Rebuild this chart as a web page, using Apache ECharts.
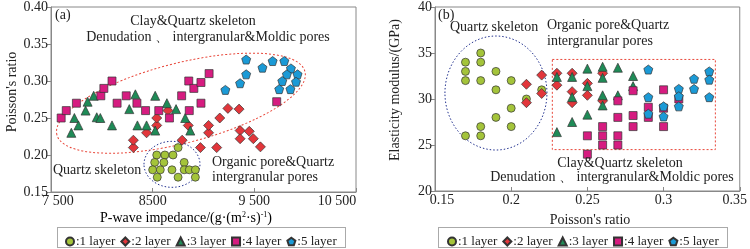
<!DOCTYPE html>
<html>
<head>
<meta charset="utf-8">
<script src="https://cdn.jsdelivr.net/npm/echarts@6/dist/echarts.min.js"></script>
<style>
  html, body { margin: 0; padding: 0; background: #fff; }
  #main { width: 750px; height: 249px; }
</style>
</head>
<body>
<div id="main"></div>
<script>
// panel (a): P-wave impedance vs Poisson's ratio
const aLayer1 = [[8540,0.20],[8620,0.20],[8700,0.20],[8750,0.21],[8520,0.19],[8610,0.19],[8810,0.19],
  [8500,0.18],[8575,0.18],[8690,0.18],[8810,0.18],[8860,0.18],[8920,0.18],[8545,0.17],[8750,0.17],[8920,0.17]];
const aLayer2 = [[8310,0.21],[8310,0.22],[8440,0.23],[8540,0.24],[8540,0.25],[8650,0.26],[8790,0.22],[8850,0.24],
  [8970,0.21],[9050,0.23],[9050,0.24],[9130,0.21],[9160,0.25],[9240,0.263],[9350,0.262],[9360,0.233],[9360,0.222],
  [9450,0.232],[9490,0.222],[9560,0.211]];
const aLayer3 = [[7700,0.23],[7730,0.25],[7770,0.24],[7840,0.26],[7860,0.272],[7920,0.28],[7950,0.251],[7985,0.25],
  [8100,0.24],[8270,0.262],[8330,0.282],[8350,0.24],[8440,0.24],[8525,0.28],[8525,0.233],[8640,0.27],[8730,0.262],
  [8820,0.25],[8870,0.233]];
const aLayer4 = [[7600,0.25],[7650,0.26],[7750,0.27],[7990,0.28],[8020,0.29],[8100,0.30],[8150,0.27],[8240,0.28],
  [8345,0.27],[8430,0.26],[8560,0.26],[8665,0.25],[8785,0.28],[8855,0.30],[8860,0.26],[8905,0.29],[8975,0.298],
  [8975,0.27],[9055,0.31],[9720,0.272]];
const aLayer5 = [[9215,0.288],[9360,0.297],[9420,0.309],[9420,0.329],[9580,0.318],[9680,0.327],[9795,0.327],
  [9860,0.317],[9820,0.309],[9925,0.309],[9775,0.30],[9910,0.299],[9745,0.289],[9855,0.289]];

// panel (b): Poisson's ratio vs elasticity modulus
const bLayer1 = [[0.17,34],[0.17,33],[0.17,32],[0.17,26],[0.18,35],[0.18,34],[0.18,32],[0.18,27],[0.18,26],
  [0.19,33],[0.19,31],[0.19,28],[0.20,32],[0.20,29],[0.20,27],[0.21,30],[0.22,31]];
const bLayer2 = [[0.21,31.6],[0.21,29.6],[0.22,32.6],[0.22,30.6],[0.23,32.8],[0.23,31.5],[0.24,32.8],[0.24,30.8],
  [0.24,29.6],[0.25,31.7],[0.25,30.4],[0.26,32.8],[0.26,29.8]];
const bLayer3 = [[0.23,32.4],[0.23,26.4],[0.24,32.4],[0.24,30.2],[0.24,27.5],[0.25,33.3],[0.25,31.4],[0.25,28.3],
  [0.26,33.5],[0.26,32.3],[0.26,30.4],[0.26,29.3],[0.27,33.4],[0.27,30.4],[0.28,32.5],[0.28,31.4]];
const bLayer4 = [[0.25,26],[0.25,24],[0.26,27],[0.26,26],[0.26,25],[0.27,29.8],[0.27,28],[0.27,26],[0.27,25],
  [0.28,30.9],[0.28,28.2],[0.28,27],[0.29,29.1],[0.29,28],[0.30,31],[0.30,29],[0.30,27],[0.31,30]];
const bLayer5 = [[0.29,33.2],[0.29,30.2],[0.29,28.4],[0.30,29.2],[0.30,28.1],[0.31,31.1],[0.31,30.3],[0.31,29.2],
  [0.32,32.2],[0.32,31.1],[0.33,33],[0.33,32.1],[0.33,30.2]];

const layerNames = ['1 layer','2 layer','3 layer','4 layer','5 layer'];
const aTicks = [7500, 8500, 9500, 10500];
const aTickText = {7500:'{lo|7 500}', 8500:'8500', 9500:'9 500', 10500:'{hiA|10 500}'};
const bTicks = [0.15, 0.2, 0.25, 0.3, 0.35];
const bTickText = {0.15:'{lo|0.15}', 0.2:'0.2', 0.25:'0.25', 0.3:'0.3', 0.35:'{hiB|0.35}'};

const pentagon = 'path://M0,-1L0.951,-0.309L0.588,0.809L-0.588,0.809L-0.951,-0.309Z';
const symbols = ['circle', 'diamond', 'triangle', 'rect', pentagon];
const sizes = [8, 10, 9, 8, 9];
const colors = ['#a4c43a', '#e2363b', '#1f8b57', '#d61c80', '#1b9ad6'];
const serif = '"Liberation Serif", "Times New Roman", serif';

const myChart = echarts.init(document.getElementById('main'));

function makeSeries(name, i, data, idx) {
  return {
    name: name, type: 'scatter', xAxisIndex: idx, yAxisIndex: idx,
    symbol: symbols[i], symbolSize: sizes[i], data: data,
    itemStyle: { color: colors[i], borderColor: '#333', borderWidth: 0.7, opacity: 1 },
    z: 3
  };
}

const axisColor = '#888';
const edgeRich = {
  lo: { fontFamily: serif, fontSize: 14, color: '#222', padding: [0, 0, 0, 14] },
  hiA: { fontFamily: serif, fontSize: 14, color: '#222', padding: [0, 38, 0, 0] },
  hiB: { fontFamily: serif, fontSize: 14, color: '#222', padding: [0, 10, 0, 0] }
};
function xAxisBase(min, max, ticks, fmt, gi) {
  return {
    type: 'value', gridIndex: gi, min: min, max: max,
    axisLine: { show: true, lineStyle: { color: axisColor } },
    axisTick: { show: true, inside: true, length: 4, customValues: ticks, lineStyle: { color: axisColor } },
    axisLabel: { customValues: ticks, formatter: fmt, color: '#222', fontFamily: serif, fontSize: 14,
      margin: 2, rich: edgeRich },
    splitLine: { show: false }
  };
}
function yAxisBase(min, max, interval, fmt, gi) {
  return {
    type: 'value', gridIndex: gi, min: min, max: max, interval: interval,
    axisLine: { show: true, lineStyle: { color: axisColor } },
    axisTick: { show: true, length: 4, lineStyle: { color: axisColor } },
    axisLabel: { formatter: fmt, color: '#222', fontFamily: serif, fontSize: 14, margin: 3 },
    splitLine: { show: false }
  };
}

const series = [];
[aLayer1, aLayer2, aLayer3, aLayer4, aLayer5].forEach((d, i) => series.push(makeSeries(layerNames[i], i, d, 0)));
[bLayer1, bLayer2, bLayer3, bLayer4, bLayer5].forEach((d, i) => series.push(makeSeries(layerNames[i], i, d, 1)));

// red dashed box in (b)
series.push({
  type: 'scatter', xAxisIndex: 1, yAxisIndex: 1, data: [], silent: true,
  markArea: {
    silent: true,
    itemStyle: { color: 'rgba(0,0,0,0)', borderColor: '#e8473a', borderWidth: 1, borderType: [2, 2] },
    data: [[{ coord: [0.227, 34.3] }, { coord: [0.334, 24.5] }]]
  }
});

const legendBase = {
  data: layerNames, itemWidth: 8, itemHeight: 8, itemGap: 5, top: 230,
  formatter: ':{name}', selectedMode: false,
  textStyle: { fontFamily: serif, fontSize: 13, color: '#222', padding: [0, 0, 0, -3] }
};

myChart.setOption({
  animation: false,
  grid: [
    { left: 51, top: 5, width: 305, height: 187, show: true, borderColor: axisColor, borderWidth: 1 },
    { left: 435, top: 5, width: 305, height: 186, show: true, borderColor: axisColor, borderWidth: 1 }
  ],
  xAxis: [
    xAxisBase(7500, 10500, aTicks, v => aTickText[v] || '', 0),
    xAxisBase(0.15, 0.35, bTicks, v => bTickText[+v.toFixed(2)] || '', 1)
  ],
  yAxis: [
    yAxisBase(0.15, 0.40, 0.05, v => v.toFixed(2), 0),
    yAxisBase(20, 40, 5, v => String(v), 1)
  ],
  legend: [
    Object.assign({}, legendBase, { left: 60 }),
    Object.assign({}, legendBase, { left: 442 })
  ],
  series: series
});

// annotations: ellipses anchored on data coordinates
const redCenter = myChart.convertToPixel({ gridIndex: 0 }, [8778, 0.270]);
const blueCenterA = myChart.convertToPixel({ gridIndex: 0 }, [8690, 0.1874]);
const blueCenterB = myChart.convertToPixel({ gridIndex: 1 }, [0.19, 30.65]);

function txt(x, y, text, extra) {
  return { type: 'text', x: x, y: y, z: 5,
    style: Object.assign({ text: text, fill: '#222', fontFamily: serif, fontSize: 14,
      textVerticalAlign: 'middle', verticalAlign: 'middle' }, extra || {}) };
}

myChart.setOption({
  graphic: [
    { type: 'ellipse', x: redCenter[0], y: redCenter[1], rotation: 0.25, z: 2, silent: true,
      shape: { cx: 0, cy: 0, rx: 128, ry: 40 },
      style: { fill: 'none', stroke: '#e8473a', lineWidth: 1, lineDash: [2, 2] } },
    { type: 'ellipse', x: blueCenterA[0], y: blueCenterA[1], z: 2, silent: true,
      shape: { cx: 0, cy: 0, rx: 28, ry: 23 },
      style: { fill: 'none', stroke: '#23328f', lineWidth: 1, lineDash: [1.5, 2] } },
    { type: 'ellipse', x: blueCenterB[0], y: blueCenterB[1], z: 2, silent: true,
      shape: { cx: 0, cy: 0, rx: 51, ry: 57 },
      style: { fill: 'none', stroke: '#23328f', lineWidth: 1, lineDash: [1.5, 2] } },

    // panel (a) labels
    txt(55, 15, '(a)'),
    txt(193, 21, 'Clay&Quartz skeleton', { align: 'center', textAlign: 'center' }),
    txt(208, 37, 'Denudation 、 intergranular&Moldic pores', { align: 'center', textAlign: 'center' }),
    txt(53, 170, 'Quartz skeleton'),
    txt(212, 162, 'Organic pore&Quartz'),
    txt(212, 177, 'intergranular pores'),

    // panel (b) labels
    txt(438, 15, '(b)'),
    txt(450, 27, 'Quartz skeleton'),
    txt(547, 25, 'Organic pore&Quartz'),
    txt(547, 41, 'intergranular pores'),
    txt(620, 163, 'Clay&Quartz skeleton', { align: 'center', textAlign: 'center' }),
    txt(612, 177, 'Denudation 、 intergranular&Moldic pores', { align: 'center', textAlign: 'center' }),

    // axis titles
    { type: 'text', x: 186, y: 218, z: 5,
      style: { text: '{t|P-wave impedance/(g·(m}{s|2}{t|·s)}{s|-1}{t|)}', align: 'center', textAlign: 'center',
        verticalAlign: 'middle', textVerticalAlign: 'middle',
        rich: { t: { fontFamily: serif, fontSize: 14, color: '#222' },
                s: { fontFamily: serif, fontSize: 8, color: '#222', verticalAlign: 'top', padding: [0, 0, 6, 0] } } } },
    txt(590, 220, "Poisson's ratio", { align: 'center', textAlign: 'center' }),
    { type: 'text', x: 12, y: 92, rotation: Math.PI / 2, z: 5,
      style: { text: "Poisson's ratio", fill: '#222', fontFamily: serif, fontSize: 14,
        align: 'center', textAlign: 'center', verticalAlign: 'middle', textVerticalAlign: 'middle' } },
    { type: 'text', x: 395, y: 90, rotation: Math.PI / 2, z: 5,
      style: { text: 'Elasticity modulus/(GPa)', fill: '#222', fontFamily: serif, fontSize: 14,
        align: 'center', textAlign: 'center', verticalAlign: 'middle', textVerticalAlign: 'middle' } },

    // legend frames
    { type: 'rect', shape: { x: 57.5, y: 227.5, width: 288, height: 20 }, z: 1, silent: true,
      style: { fill: 'none', stroke: '#555', lineWidth: 1, lineDash: [1, 1] } },
    { type: 'rect', shape: { x: 438.5, y: 227.5, width: 289, height: 20 }, z: 1, silent: true,
      style: { fill: 'none', stroke: '#555', lineWidth: 1, lineDash: [1, 1] } }
  ]
});
</script>
</body>
</html>
